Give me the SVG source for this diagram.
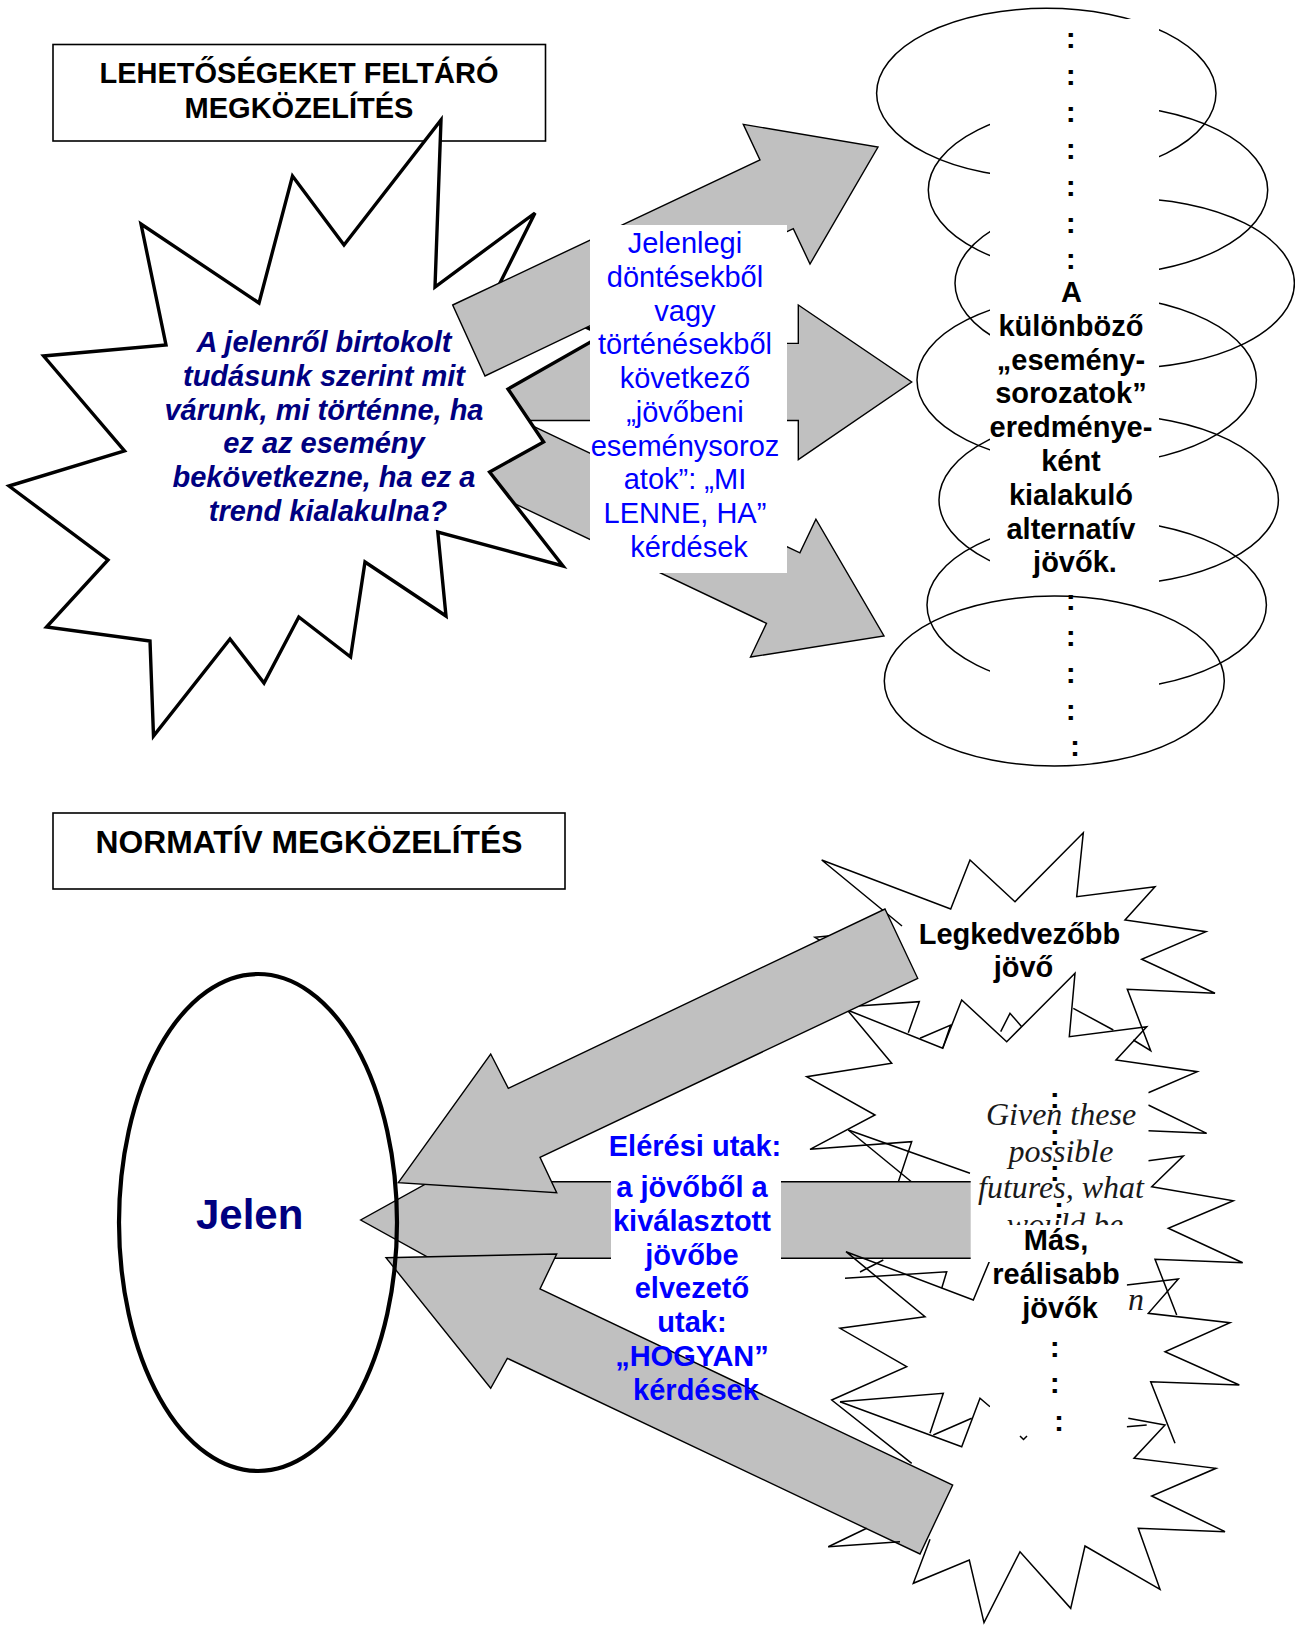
<svg xmlns="http://www.w3.org/2000/svg" width="1295" height="1625" viewBox="0 0 1295 1625">
<style>
.bg{fill:#fff}
.box{fill:#fff;stroke:#000;stroke-width:1.6}
.arr{fill:#c0c0c0;stroke:#000;stroke-width:1.4;stroke-linejoin:miter}
.burst{fill:#fff;stroke:#000;stroke-width:3.4;stroke-linejoin:miter}
.edge{fill:none;stroke:#000;stroke-width:1.5;stroke-linejoin:miter}
.ring{fill:none;stroke:#000;stroke-width:1.5}
.mask{fill:#fff}
text{font-family:"Liberation Sans",Arial,sans-serif;text-anchor:middle}
.title{font-weight:bold;font-size:29px}
.q{font-weight:bold;font-style:italic;font-size:29px;fill:#000080}
.blue{font-size:29px;fill:#0000ff}
.blueb{font-size:29px;font-weight:bold;fill:#0000ff}
.blk{font-size:29px;font-weight:bold;fill:#000}
.dots{font-size:30px;font-weight:bold;fill:#000}
.en{font-family:"Liberation Serif","Times New Roman",serif;font-style:italic;font-size:32px;fill:#1a1a1a}
</style>
<rect class="bg" x="0" y="0" width="1295" height="1625"/>

<!-- ===== Exploratory approach (top half) ===== -->
<g id="title-exploratory">
  <rect class="box" x="53" y="44.5" width="492.5" height="96.5"/>
  <text class="title" x="299" y="83">LEHETŐSÉGEKET FELTÁRÓ</text>
  <text class="title" x="299" y="118">MEGKÖZELÍTÉS</text>
</g>

<!-- connectors drawn beneath the starburst -->
<g id="connectors-top-lower">
  <polygon class="arr" points="440,343.4 798.3,343.4 798.3,305 911.7,382 798.3,459.6 798.3,420.5 440,420.5"/>
  <polygon class="arr" points="510.9,415.6 799.9,552.9 815.9,519.2 884,636 750.5,657 766.5,623.3 477.5,486"/>
</g>

<g id="node-present-knowledge">
  <polygon class="burst" points="441,120 435,287 535,213 498,287 603,335 508,389 543.6,442 489.6,472 563,566 437.8,532 446,616 365,562 350.6,657 298.8,617 264,683 230,639 153.5,736 150,641 46.5,627 108,560 9,486 124.5,451 43.6,356 166,345 141,224 259,303 292.5,176 344,245"/>
</g>

<g id="connectors-top-upper">
  <polygon class="arr" points="452.7,305 760,160 743.3,124.4 878,147 810,264 793.3,228.6 485,376"/>
</g>

<g id="label-whatif">
  <rect class="mask" x="590" y="225" width="197" height="348"/>
  <text class="blue">
    <tspan x="689" y="253">Jelenlegi</tspan>
    <tspan x="689" y="286.8">döntésekből</tspan>
    <tspan x="689" y="320.5">vagy</tspan>
    <tspan x="689" y="354.3">történésekből</tspan>
    <tspan x="689" y="388">következő</tspan>
    <tspan x="689" y="421.8">„jövőbeni</tspan>
    <tspan x="689" y="455.5">eseménysoroz</tspan>
    <tspan x="689" y="489.3">atok”: „MI</tspan>
    <tspan x="689" y="523">LENNE, HA”</tspan>
    <tspan x="689" y="556.8">kérdések</tspan>
  </text>
</g>

<g id="node-present-knowledge-text">
  <text class="q">
    <tspan x="328" y="352">A jelenről birtokolt</tspan>
    <tspan x="328" y="385.8">tudásunk szerint mit</tspan>
    <tspan x="328" y="419.6">várunk, mi történne, ha</tspan>
    <tspan x="328" y="453.4">ez az esemény</tspan>
    <tspan x="328" y="487.2">bekövetkezne, ha ez a</tspan>
    <tspan x="328" y="521">trend kialakulna?</tspan>
  </text>
</g>

<g id="node-alternative-futures">
  <ellipse class="ring" cx="1046.3" cy="93.3" rx="169.7" ry="85"/>
  <ellipse class="ring" cx="1098" cy="190" rx="169.7" ry="85"/>
  <ellipse class="ring" cx="1124.7" cy="283.3" rx="169.7" ry="85"/>
  <ellipse class="ring" cx="1086.7" cy="380" rx="169.7" ry="85"/>
  <ellipse class="ring" cx="1108.7" cy="500" rx="169.7" ry="85"/>
  <ellipse class="ring" cx="1096.7" cy="605" rx="169.7" ry="85"/>
  <rect class="mask" x="990" y="19" width="169" height="741"/>
  <ellipse class="ring" cx="1054.3" cy="681" rx="170" ry="85"/>
  <text class="dots">
    <tspan x="1075" y="48">:</tspan>
    <tspan x="1075" y="84.9">:</tspan>
    <tspan x="1075" y="121.8">:</tspan>
    <tspan x="1075" y="158.7">:</tspan>
    <tspan x="1075" y="195.6">:</tspan>
    <tspan x="1075" y="232.5">:</tspan>
    <tspan x="1075" y="269.4">:</tspan>
    <tspan x="1075" y="609.7">:</tspan>
    <tspan x="1075" y="646.3">:</tspan>
    <tspan x="1075" y="683">:</tspan>
    <tspan x="1075" y="719.7">:</tspan>
    <tspan x="1075" y="756.3">:</tspan>
  </text>
  <text class="blk">
    <tspan x="1075" y="302">A</tspan>
    <tspan x="1075" y="335.8">különböző</tspan>
    <tspan x="1075" y="369.6">„esemény-</tspan>
    <tspan x="1075" y="403.4">sorozatok”</tspan>
    <tspan x="1075" y="437.2">eredménye-</tspan>
    <tspan x="1075" y="471">ként</tspan>
    <tspan x="1075" y="504.8">kialakuló</tspan>
    <tspan x="1075" y="538.6">alternatív</tspan>
    <tspan x="1075" y="572.4">jövők.</tspan>
  </text>
</g>

<!-- ===== Normative approach (bottom half) ===== -->
<g id="title-normative">
  <rect class="box" x="53" y="813" width="512" height="76"/>
  <text class="title" x="309" y="852.5" style="font-size:31.8px">NORMATÍV MEGKÖZELÍTÉS</text>
</g>

<g id="node-best-future">
  <polyline class="edge" points="902,926 821.7,860 950.7,909 970,860 1015,901.7 1083.3,832.7 1076.7,896.7 1155,886.7 1125,920 1206,931.7 1141.7,959.3 1215,993.3 1127.3,989.3 1150.7,1050.7 1133.3,1040"/>
  <polyline class="edge" points="1073.3,1008.3 1113.3,1030"/>
  <polyline class="edge" points="1000.7,1031.7 1010,1013.3 1021.7,1026.7"/>
  <polyline class="edge" points="908.3,1032.7 919.3,1001.7 847.3,1006.7"/>
  <polyline class="edge" points="920,1038.3 950.7,1025 942.7,1048.3"/>
  <polyline class="edge" points="838,935 815,937.3 832,948"/>
  <text class="blk">
    <tspan x="1023.5" y="944">Legkedvezőbb</tspan>
    <tspan x="1023.5" y="977">jövő</tspan>
  </text>
</g>

<g id="node-possible-futures">
  <polyline class="edge" points="847.3,1010 942.7,1048.3 961.7,1000 1006.7,1041.7 1075,973.3 1069.3,1036.7 1146.7,1026.7 1116,1060 1197.3,1071.7 1148.3,1092.7"/>
  <polyline class="edge" points="847.3,1010 891.7,1063.3 806.7,1076.7 875,1115 810,1149.3 911.7,1141.7 898.3,1182"/>
  <polyline class="edge" points="848.3,1130 970,1173.3"/>
  <polyline class="edge" points="848.3,1130 911.7,1182"/>
  <polyline class="edge" points="1148.3,1105 1206.7,1133.3 1148.3,1130.7"/>
  <polyline class="edge" points="1148.3,1160.7 1183.3,1156 1151.7,1186.7 1233.3,1200.7 1168.3,1228.3 1242.7,1262.7 1155,1259.3 1176.7,1315"/>
  <polyline class="edge" points="1126.7,1285 1178.3,1279 1148.3,1313.3 1230,1322.7 1165,1351.7 1239.3,1385 1150.7,1381.7 1175,1443.3"/>
</g>

<g id="connectors-bottom">
  <polygon class="arr" points="980,1181.7 499.4,1181.7 499.4,1143.2 360.7,1220 499.4,1296.8 499.4,1258.3 980,1258.3"/>
  <polygon class="arr" points="885,909 917.7,978.3 540,1157.3 556.7,1192.7 398.3,1182.7 490.7,1054 508.3,1088.3"/>
  <polygon class="arr" points="952.7,1485 920,1554 507.3,1358.3 490.7,1388.3 386,1257.7 556.7,1254 540,1289"/>
</g>

<g id="node-other-futures">
  <polyline class="edge" points="990,1260 973.3,1300 846,1251.7 925,1316.7 840,1328.3 906.7,1366.7 831.7,1400 911.7,1463.3"/>
  <polyline class="edge" points="845,1278.3 946.7,1271.7 941.7,1288.3"/>
  <polyline class="edge" points="860,1272 883.3,1260"/>
  <polyline class="edge" points="840,1401.7 943.3,1393.3 930,1433.3"/>
  <polyline class="edge" points="840,1401.7 961.7,1446.7 980,1398.3 990,1406.7"/>
  <polyline class="edge" points="933.3,1435 971.7,1418.3"/>
  <polyline class="edge" points="1128.3,1418.3 1165,1425 1134,1458.3 1216,1468.3 1151.7,1496 1225,1531.7 1138.3,1528.3 1160,1589.3 1085,1546 1070.7,1608.3 1020,1551.7 984,1622.7 969.3,1560 913.3,1583.3 930,1539.3"/>
  <polyline class="edge" points="1126.7,1426.7 1146.7,1425"/>
  <polyline class="edge" points="828.3,1546.7 900,1541.7"/>
  <polyline class="edge" points="828.3,1546.7 866.7,1528.3"/>
</g>

<g id="label-possible-futures">
  <rect class="mask" x="970.7" y="1090" width="177.6" height="172"/>
  <text class="en">
    <tspan x="1065" y="1125">Given these</tspan>
    <tspan x="1065" y="1161.7">possible</tspan>
    <tspan x="1065" y="1198.3">futures, what</tspan>
    <tspan x="1065" y="1235">would be</tspan>
  </text>
  <text class="en" x="1128" y="1310" style="text-anchor:start">n</text>
  <text class="dots">
    <tspan x="1059" y="1108">:</tspan>
    <tspan x="1059" y="1144.7">:</tspan>
    <tspan x="1059" y="1181.3">:</tspan>
    <tspan x="1059" y="1218">:</tspan>
  </text>
</g>

<g id="label-other-futures">
  <rect class="mask" x="990" y="1225" width="136.7" height="215"/>
  <text class="blk">
    <tspan x="1060" y="1250">Más,</tspan>
    <tspan x="1060" y="1284">reálisabb</tspan>
    <tspan x="1060" y="1318">jövők</tspan>
  </text>
  <text class="dots">
    <tspan x="1059" y="1356.7">:</tspan>
    <tspan x="1059" y="1393.3">:</tspan>
    <tspan x="1059" y="1430.8">:</tspan>
  </text>
  <polyline class="edge" points="1020,1436 1023.5,1439.5 1027,1436"/>
</g>

<g id="label-how">
  <rect class="mask" x="611" y="1168" width="170" height="132"/>
  <text class="blueb" x="695" y="1156">Elérési utak:</text>
  <text class="blueb">
    <tspan x="696" y="1197">a jövőből a</tspan>
    <tspan x="696" y="1230.8">kiválasztott</tspan>
    <tspan x="696" y="1264.6">jövőbe</tspan>
    <tspan x="696" y="1298.4">elvezető</tspan>
    <tspan x="696" y="1332.2">utak:</tspan>
    <tspan x="696" y="1366">„HOGYAN”</tspan>
    <tspan x="696" y="1399.8">kérdések</tspan>
  </text>
</g>

<g id="node-present">
  <ellipse cx="258" cy="1222.5" rx="139" ry="248.5" fill="none" stroke="#000" stroke-width="4.2"/>
  <text x="249.7" y="1229" style="font-size:42px;font-weight:bold;fill:#000080">Jelen</text>
</g>
</svg>
